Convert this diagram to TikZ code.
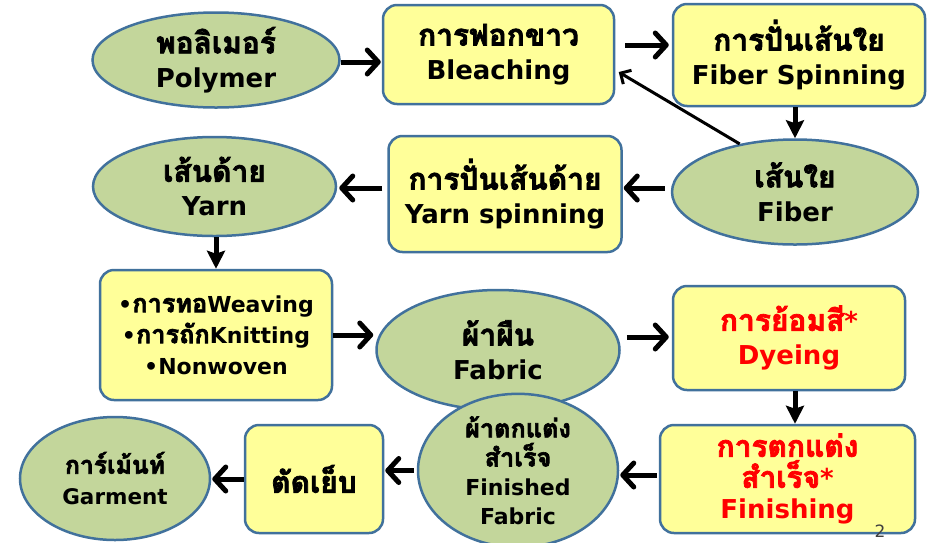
\documentclass[tikz,border=0pt]{standalone}
\usepackage{fontspec}
\setmainfont{DejaVu Sans}
\newfontfamily\thaifont[Script=Thai,Scale=1.15,FakeBold=2.5]{Loma}
\usetikzlibrary{shapes.geometric,arrows.meta,calc}
\definecolor{ellfill}{HTML}{C3D69B}
\definecolor{boxfill}{HTML}{FFFF99}
\definecolor{bord}{HTML}{41719C}
\definecolor{redtxt}{HTML}{FF0000}
\tikzset{
  ell/.style={ellipse, draw=bord, fill=ellfill, line width=2.5pt, inner sep=0pt, align=center},
  box/.style={rectangle, rounded corners=14pt, draw=bord, fill=boxfill, line width=2.5pt, inner sep=0pt, align=center},
  big/.style={font=\fontsize{26}{34}\selectfont\bfseries},
  mid/.style={font=\fontsize{22}{31}\selectfont\bfseries},
  sml/.style={font=\fontsize{21.5}{31}\selectfont\bfseries},
  arr/.style={line width=5pt, -{Straight Barb[length=11pt,width=24pt,round]}},
  darr/.style={line width=5pt, -{Stealth[length=18pt,width=18pt,inset=3pt]}},
  thinarr/.style={line width=3pt, -{Straight Barb[length=8pt,width=16pt]}},
}
\begin{document}
\begin{tikzpicture}[x=1pt,y=-1pt]
\useasboundingbox (0,0) rectangle (933,542);
\fill[white] (0,0) rectangle (933,542);
% nodes
\node[ell,big,minimum width=247pt,minimum height=95pt] (poly) at (216,60) {{\thaifont พอลิเมอร์}\\Polymer};
\node[box,big,minimum width=231pt,minimum height=99pt] (bleach) at (498.5,54.5) {{\thaifont การฟอกขาว}\\Bleaching};
\node[box,big,minimum width=252pt,minimum height=102pt] (fspin) at (799,55) {{\thaifont การปั่นเส้นใย}\\Fiber Spinning};
\node[ell,big,minimum width=246pt,minimum height=105pt] (fiber) at (795,192) {{\thaifont เส้นใย}\\Fiber};
\node[box,big,minimum width=233pt,minimum height=116pt] (yspin) at (505,194) {{\thaifont การปั่นเส้นด้าย}\\Yarn spinning};
\node[ell,big,minimum width=243pt,minimum height=99pt] (yarn) at (214.5,186.5) {{\thaifont เส้นด้าย}\\Yarn};
\node[box,mid,minimum width=232pt,minimum height=130pt] (weave) at (216,335) {•{\thaifont การทอ}Weaving\\•{\thaifont การถัก}Knitting\\•Nonwoven};
\node[ell,big,minimum width=243pt,minimum height=120pt] (fabric) at (498,350) {{\thaifont ผ้าผืน}\\Fabric};
\node[box,big,text=redtxt,minimum width=232pt,minimum height=104pt] (dye) at (789,338) {{\thaifont การย้อมสี}*\\Dyeing};
\node[box,big,text=redtxt,font=\fontsize{26}{31}\selectfont\bfseries,minimum width=255pt,minimum height=108pt] (finish) at (787.5,479) {{\thaifont การตกแต่ง}\\{\thaifont สำเร็จ}*\\Finishing};
\node[ell,mid,font=\fontsize{22}{29}\selectfont\bfseries,minimum width=200pt,minimum height=125pt] (ffab) at (518,470.5) {{\thaifont ผ้าตกแต่ง}\\{\thaifont สำเร็จ}\\Finished\\Fabric};
\node[box,big,minimum width=138pt,minimum height=108pt] (sew) at (314,479) {{\thaifont ตัดเย็บ}};
\node[ell,sml,minimum width=190pt,minimum height=123pt] (garm) at (115,478.5) {{\thaifont การ์เม้นท์}\\Garment};
\node[text=black!75,font=\fontsize{17}{19}\selectfont,inner sep=0pt,anchor=north] (pg) at (880,525) {2};
% arrows
\draw[arr,shorten <=0pt,shorten >=1pt] ([yshift=-2pt]poly.east) -- ([yshift=-2pt]poly.east -| bleach.west);
\draw[arr,shorten <=10pt,shorten >=3pt] ([yshift=9.5pt]bleach.east) -- ([yshift=9.5pt]bleach.east -| fspin.west);
\draw[darr,shorten <=0pt,shorten >=0pt] (fspin.south -| fiber.north) -- (fiber.north);
\draw[thinarr,shorten >=4pt] (fiber.139) -- ([yshift=-15.5pt]bleach.east);
\draw[arr,shorten <=6pt,shorten >=1pt] ([yshift=4pt]fiber.west) -- ([yshift=4pt]fiber.west -| yspin.east);
\draw[arr,shorten <=5pt,shorten >=2pt] ([yshift=6pt]yspin.west) -- ([yshift=6pt]yspin.west -| yarn.east);
\draw[darr,shorten >=0pt] (yarn.south -| weave.north) -- (weave.north);
\draw[arr,shorten <=0pt,shorten >=2pt] (weave.east) -- (weave.east -| fabric.west);
\draw[arr,shorten <=6pt,shorten >=3pt] ([yshift=1pt]fabric.east |- dye.west) -- ([yshift=1pt]dye.west);
\draw[darr,shorten >=0pt] ([xshift=6pt]dye.south) -- ([xshift=6pt]dye.south |- finish.north);
\draw[arr,shorten <=2pt,shorten >=1pt] ([yshift=4pt]finish.west) -- ([yshift=4pt]finish.west -| ffab.east);
\draw[arr,shorten <=3pt,shorten >=1pt] (ffab.west) -- (ffab.west -| sew.east);
\draw[arr,shorten <=0pt,shorten >=1pt] (sew.west) -- (sew.west -| garm.east);
\end{tikzpicture}
\end{document}
